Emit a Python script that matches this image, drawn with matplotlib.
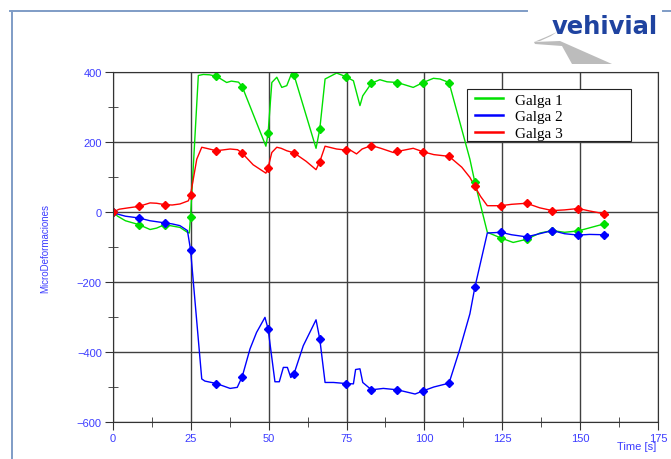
import matplotlib
matplotlib.use('Agg')
import matplotlib.pyplot as plt
from matplotlib.lines import Line2D
from matplotlib.patches import Polygon, Rectangle

plt.rcParams['font.family'] = ['Liberation Sans', 'DejaVu Sans']

# curvas (tiempo [s], microdeformaciones)
t_g1 = [0, 1.5, 4, 8.3, 11.9, 14, 16.6, 19, 21.5, 23.9, 24.5, 24.9, 27.4, 29, 31, 33.2,
        36.5, 38, 40.3, 41.5, 49.1, 49.8, 51, 52.6, 54.2, 55.8, 57.4, 58.1, 65.2, 66.4,
        68.1, 71.8, 74.7, 77.2, 79.3, 80.2, 83, 85.7, 88, 91.3, 96.4, 99.6, 102.9, 105,
        107.9, 114.6, 116.2, 120.2, 124.5, 128.5, 132.8, 137.1, 141.1, 145, 149.4, 157.7, 159]
g1 = [0, -12, -25, -36, -50, -46, -36, -40, -44, -58, -60, -13, 390, 393, 392, 388,
      370, 374, 371, 358, 188, 225, 370, 385, 356, 361, 397, 392, 182, 237,
      380, 397, 387, 375, 304, 332, 368, 378, 372, 370, 356, 370, 382, 380,
      370, 151, 85, -58, -74, -87, -78, -60, -53, -58, -54, -34, -35]

t_g2 = [0, 1.5, 4, 8.3, 11.9, 16.6, 19, 21.5, 23.9, 24.9, 28.5, 29.5, 33.2, 37.6, 39.9,
        41.5, 44, 46.1, 48.8, 49.8, 52, 53.4, 54.7, 56, 57.1, 58.1, 61.1, 65.2, 66.4,
        68.1, 70.8, 74.7, 77.2, 77.9, 79.3, 80.2, 83, 86.8, 91.3, 97, 99.6, 103, 107.9,
        111.4, 114.6, 116.2, 120.2, 124.5, 128, 132.8, 137, 141.1, 145, 149.4, 153, 157.7, 159]
g2 = [0, -6, -12, -17, -25, -31, -34, -39, -53, -108, -477, -483, -490, -504, -501,
      -470, -391, -344, -301, -334, -485, -485, -444, -444, -473, -463, -382, -308, -363,
      -487, -487, -490, -491, -450, -448, -487, -508, -504, -508, -520, -511, -500, -489,
      -391, -291, -215, -60, -58, -65, -71, -62, -53, -62, -66, -64, -65, -64]

t_g3 = [0, 2, 5, 8.3, 11.9, 14, 16.6, 19, 21.5, 24.2, 24.9, 26.9, 28.5, 30, 33.2, 37.6,
        40, 41.5, 45, 49.1, 49.8, 51, 52.6, 54, 55.8, 58.1, 62, 65.2, 66.4, 68.1, 71.8,
        74.7, 76, 78.2, 80, 83, 86, 90, 91.3, 96.4, 99.6, 103, 107.9, 112, 114.6, 116.2,
        118, 120.2, 124.5, 128, 132.8, 137, 141.1, 145, 149.4, 153, 157.7, 159]
g3 = [0, 8, 12, 16, 26, 25, 21, 20, 23, 32, 49, 151, 185, 182, 175, 180,
      178, 168, 135, 111, 127, 170, 185, 182, 175, 169, 145, 121, 144, 188, 180,
      177, 178, 166, 180, 190, 182, 170, 173, 182, 172, 164, 159, 128, 99, 73,
      45, 18, 18, 22, 25, 12, 4, 6, 10, 3, -5, -8]

# marcadores
t_mk = [0, 8.3, 16.6, 24.9, 33.2, 41.5, 49.8, 58.1, 66.4, 74.7, 83, 91.3, 99.6,
        107.9, 116.2, 124.5, 132.8, 141.1, 149.4, 157.7]
mk1 = [0, -36, -36, -13, 388, 358, 225, 392, 237, 387, 368, 370, 370,
       370, 85, -74, -78, -53, -54, -34]
mk2 = [0, -17, -31, -108, -490, -470, -334, -463, -363, -490, -508, -508, -511,
       -489, -215, -58, -71, -53, -66, -65]
mk3 = [0, 16, 21, 49, 175, 168, 127, 169, 144, 177, 190, 173, 172,
       159, 73, 18, 25, 4, 10, -5]

c1, c2, c3 = '#00e000', '#0000ff', '#ff0000'
azul = '#3c3cff'

fig = plt.figure(figsize=(6.71, 4.6), dpi=100)
ax = fig.add_axes([0.1684, 0.0804, 0.8122, 0.7609])

ax.plot(t_g1, g1, color=c1, lw=1, label='Galga 1')
ax.plot(t_g2, g2, color=c2, lw=1, label='Galga 2')
ax.plot(t_g3, g3, color=c3, lw=1, label='Galga 3')
ax.plot(t_mk, mk1, 'D', color=c1, ms=4.5)
ax.plot(t_mk, mk2, 'D', color=c2, ms=4.5)
ax.plot(t_mk, mk3, 'D', color=c3, ms=4.5)

ax.set_xlim(0, 175)
ax.set_ylim(-600, 400)
ax.set_xticks(range(0, 176, 25))
ax.set_yticks(range(-600, 401, 200))
ax.set_xticks([12.5 + 25 * i for i in range(7)], minor=True)
ax.set_yticks(range(-500, 400, 200), minor=True)
ax.grid(True, which='major', color='#404040', lw=1)
ax.tick_params(which='major', direction='out', length=6, colors='#333333',
               labelcolor=azul, labelsize=8, pad=2)
ax.tick_params(which='minor', direction='inout', length=7, colors='#333333')
for s in ax.spines.values():
    s.set_color('#333333')

ax.set_ylabel('MicroDeformaciones', color=azul, fontsize=7, labelpad=19)
fig.text(0.949, 0.028, 'Time [s]', color=azul, fontsize=8, ha='center', va='center')

# leyenda con su recuadro aparte (mas ancho que el texto)
leg = ax.legend(loc='upper left', bbox_to_anchor=(0.658, 0.951), frameon=False,
                borderpad=0.25, labelspacing=0.2, handlelength=1.8,
                handletextpad=0.8, borderaxespad=0,
                prop={'family': 'Liberation Serif', 'size': 11})
leg.set_zorder(6)
for h in leg.legend_handles:
    h.set_linewidth(1.8)
ax.add_patch(Rectangle((0.6495, 0.803), 0.301, 0.148, transform=ax.transAxes,
                       facecolor='white', edgecolor='#222222', lw=0.8, zorder=5))

# marco de la diapositiva y logo
marco = '#7f9cc6'
fig.add_artist(Line2D([12 / 671, 12 / 671], [1 - 12 / 460, 0], color=marco, lw=1.4))
fig.add_artist(Line2D([10 / 671, 527 / 671], [1 - 12 / 460, 1 - 12 / 460], color=marco, lw=1.4))
fig.add_artist(Line2D([663 / 671, 1], [1 - 12 / 460, 1 - 12 / 460], color=marco, lw=1.4))
trazo = [(534, 43), (546, 38), (557, 33), (551, 37), (540, 42)]
banda = [(534, 43), (560, 42), (612, 65), (572, 65), (562, 47), (535, 45)]
for pts in (trazo, banda):
    fig.add_artist(Polygon([(x / 671, 1 - y / 460) for x, y in pts], closed=True,
                           facecolor='#bcbcbc', edgecolor='none'))
fig.text(0.98, 1 - 27 / 460, 'vehivial', color='#1f43a0', fontsize=17.5, fontweight='bold',
         family='DejaVu Sans', ha='right', va='center')

fig.savefig('out.png', dpi=100)
